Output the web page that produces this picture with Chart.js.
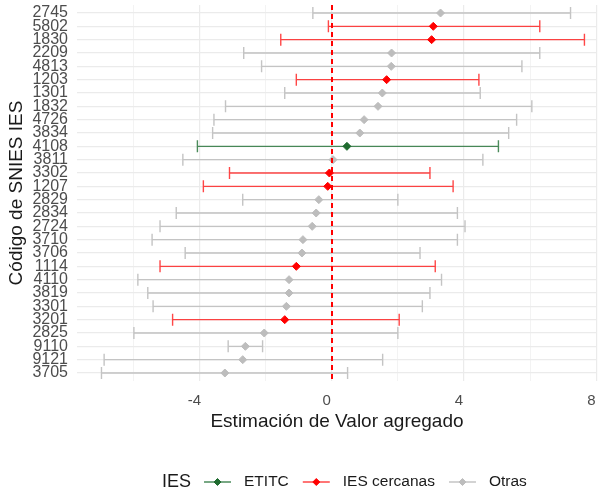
<!DOCTYPE html>
<html><head><meta charset="utf-8">
<script src="https://cdn.jsdelivr.net/npm/chart.js@4.4.1/dist/chart.umd.min.js"></script>
<style>html,body{margin:0;padding:0;background:#fff}#wrap{width:602px;height:493px}</style>
</head><body><div id="wrap"><canvas id="c" width="602" height="493"></canvas></div>
<script>
// ---- data (top row first) ----
const codes = ['2745','5802','1830','2209','4813','1203','1301','1832','4726','3834','4108','3811','3302','1207','2829','2834','2724','3710','3706','1114','4110','3819','3301','3201','2825','9110','9121','3705'];
const estimates = [3.29,3.07,3.02,1.81,1.80,1.66,1.53,1.40,0.98,0.85,0.46,0.04,-0.07,-0.12,-0.39,-0.47,-0.59,-0.87,-0.90,-1.07,-1.29,-1.29,-1.37,-1.42,-2.04,-2.61,-2.69,-3.23];
const lowers = [-0.57,-0.10,-1.54,-2.66,-2.12,-1.07,-1.42,-3.21,-3.56,-3.60,-4.06,-4.50,-3.09,-3.88,-2.69,-4.70,-5.19,-5.43,-4.43,-5.19,-5.86,-5.56,-5.40,-4.81,-5.98,-3.13,-6.88,-6.96];
const uppers = [7.22,6.29,7.64,6.29,5.75,4.45,4.49,6.05,5.59,5.35,5.04,4.57,2.97,3.67,2.00,3.80,4.03,3.80,2.67,3.13,3.32,2.97,2.74,2.04,2.00,-2.09,1.54,0.48];
const groups = ['Otras','IES cercanas','IES cercanas','Otras','Otras','IES cercanas','Otras','Otras','Otras','Otras','ETITC','Otras','IES cercanas','IES cercanas','Otras','Otras','Otras','Otras','Otras','IES cercanas','Otras','Otras','Otras','IES cercanas','Otras','Otras','Otras','Otras'];
const xTickValues = [-6,-4,-2,0,2,4,6,8];
const xTickLabels = ['','-4','','0','','4','','8'];
const legendTitle = 'IES';
const legendOrder = ['ETITC','IES cercanas','Otras'];
const drawOrder = ['Otras','IES cercanas','ETITC'];
const xTitle = 'Estimación de Valor agregado';
const yTitle = 'Código de SNIES IES';

// ---- styles ----
const FONT = '"Liberation Sans", Arial, sans-serif';
const styles = {
  'ETITC': {line:'rgba(30,110,50,0.8)', point:'#1f6b2f'},
  'IES cercanas': {line:'rgba(255,0,0,0.72)', point:'#ff0000'},
  'Otras': {line:'#c4c4c4', point:'#bdbdbd'}
};

const datasets = drawOrder.map(g => ({
  label: g,
  data: codes.map((c,i)=>({x:estimates[i], y:i, xMin:lowers[i], xMax:uppers[i], g:groups[i]})).filter(p=>p.g===g),
  pointStyle:'rectRot', pointRadius:4, pointBorderWidth:1,
  backgroundColor: styles[g].point, borderColor: styles[g].point,
  errColor: styles[g].line
}));

const errorBars = {
  id:'errorBars',
  beforeDatasetsDraw(chart){
    const {ctx, scales:{x,y}} = chart;
    ctx.save();
    chart.data.datasets.forEach(ds=>{
      ctx.strokeStyle = ds.errColor; ctx.lineWidth = 1.4;
      ds.data.forEach(p=>{
        const py = y.getPixelForValue(p.y), x1 = x.getPixelForValue(p.xMin), x2 = x.getPixelForValue(p.xMax);
        ctx.beginPath();
        ctx.moveTo(x1,py); ctx.lineTo(x2,py);
        ctx.moveTo(x1,py-6); ctx.lineTo(x1,py+6);
        ctx.moveTo(x2,py-6); ctx.lineTo(x2,py+6);
        ctx.stroke();
      });
    });
    ctx.restore();
  },
  afterDatasetsDraw(chart){
    const {ctx, scales:{x}, chartArea} = chart;
    const px = Math.round(x.getPixelForValue(0));
    ctx.save();
    ctx.strokeStyle = '#ff0000'; ctx.lineWidth = 2; ctx.setLineDash([5,4]);
    ctx.beginPath(); ctx.moveTo(px, chartArea.top); ctx.lineTo(px, chartArea.bottom); ctx.stroke();
    ctx.restore();
  },
  afterDraw(chart){
    const ctx = chart.ctx;
    ctx.save();
    const y = 482; let xx = 162;
    ctx.textBaseline = 'middle'; ctx.textAlign = 'left'; ctx.fillStyle = '#1a1a1a';
    ctx.font = '18px ' + FONT;
    ctx.fillText(legendTitle, xx, y);
    xx += ctx.measureText(legendTitle).width + 13;
    ctx.font = '15.5px ' + FONT;
    legendOrder.forEach(g=>{
      ctx.strokeStyle = styles[g].line; ctx.lineWidth = 1.5;
      ctx.beginPath(); ctx.moveTo(xx, y); ctx.lineTo(xx+27, y); ctx.stroke();
      ctx.fillStyle = styles[g].point; ctx.strokeStyle = styles[g].point; ctx.lineWidth = 1;
      Chart.helpers.drawPoint(ctx, {pointStyle:'rectRot', radius:3.5, borderWidth:1}, xx+13.5, y);
      xx += 27 + 13;
      ctx.fillStyle = '#1a1a1a';
      ctx.fillText(g, xx, y);
      xx += ctx.measureText(g).width + 14;
    });
    ctx.restore();
  }
};

new Chart(document.getElementById('c'), {
  type:'scatter',
  data:{datasets},
  options:{
    responsive:false, animation:false, devicePixelRatio:1,
    layout:{padding:{top:4,left:0,right:0,bottom:0}},
    plugins:{legend:{display:false}, tooltip:{enabled:false}},
    scales:{
      x:{
        type:'linear', min:-7.7, max:8.02,
        afterBuildTicks:s=>{ s.ticks = xTickValues.map(v=>({value:v})); },
        afterFit:s=>{ s.height = 112; s.paddingLeft = 0; s.paddingRight = 0; },
        ticks:{ callback:(v,i)=>xTickLabels[i], font:{family:FONT,size:15}, color:'#4d4d4d', padding:11, labelOffset:-5, autoSkip:false, maxRotation:0 },
        grid:{ color:'#ebebeb', lineWidth:c=> (c.tick && xTickLabels[xTickValues.indexOf(c.tick.value)]) ? 1.2 : 0.6, drawTicks:false },
        border:{display:false},
        title:{display:true, text:xTitle, font:{family:FONT,size:19}, color:'#1a1a1a', padding:{top:0,bottom:60}}
      },
      y:{
        type:'linear', reverse:true, min:-0.6, max:codes.length-1+0.6,
        afterBuildTicks:s=>{ s.ticks = codes.map((c,i)=>({value:i})); },
        afterFit:s=>{ s.width = 77; s.paddingTop = 0; s.paddingBottom = 0; },
        ticks:{ callback:v=>codes[v], font:{family:FONT,size:16}, color:'#4d4d4d', padding:9, autoSkip:false },
        grid:{ color:'#ebebeb', lineWidth:1.2, drawTicks:false },
        border:{display:false},
        title:{display:true, text:yTitle, font:{family:FONT,size:19}, color:'#1a1a1a', padding:{top:5.5,bottom:0}}
      }
    }
  },
  plugins:[errorBars]
});
</script></body></html>
